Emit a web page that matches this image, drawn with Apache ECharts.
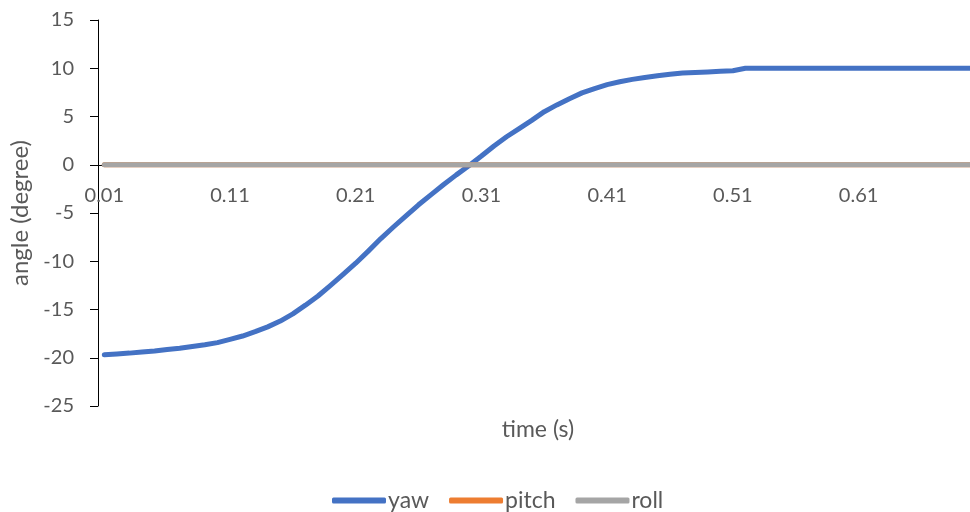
<!DOCTYPE html>
<html>
<head>
<meta charset="utf-8">
<script src="https://cdn.jsdelivr.net/npm/echarts@6/dist/echarts.min.js"></script>
<style>
html,body{margin:0;padding:0;background:#fff;}
#chart{width:970px;height:512px;}
</style>
</head>
<body>
<div id="chart"></div>
<script>
// time categories 0.01 .. 0.70
const times = [];
for (let i = 1; i <= 70; i++) times.push((i / 100).toFixed(2));

const yaw = [
  -19.7, -19.6, -19.52, -19.4, -19.3, -19.15, -19.02, -18.83, -18.65, -18.43,
  -18.1, -17.75, -17.3, -16.8, -16.2, -15.45, -14.55, -13.6, -12.5, -11.35,
  -10.2, -8.95, -7.65, -6.45, -5.3, -4.15, -3.1, -2.05, -1.05, -0.1,
  0.9, 1.95, 2.9, 3.75, 4.6, 5.5, 6.2, 6.85, 7.45, 7.9,
  8.3, 8.6, 8.85, 9.05, 9.22, 9.38, 9.5, 9.56, 9.62, 9.68,
  9.74, 10, 10, 10, 10, 10, 10, 10, 10, 10,
  10, 10, 10, 10, 10, 10, 10, 10, 10, 10
];
const pitch = [
  0,0,0,0,0,0,0,0,0,0, 0,0,0,0,0,0,0,0,0,0, 0,0,0,0,0,0,0,0,0,0,
  0,0,0,0,0,0,0,0,0,0, 0,0,0,0,0,0,0,0,0,0, 0,0,0,0,0,0,0,0,0,0,
  0,0,0,0,0,0,0,0,0,0
];
const roll = [
  0,0,0,0,0,0,0,0,0,0, 0,0,0,0,0,0,0,0,0,0, 0,0,0,0,0,0,0,0,0,0,
  0,0,0,0,0,0,0,0,0,0, 0,0,0,0,0,0,0,0,0,0, 0,0,0,0,0,0,0,0,0,0,
  0,0,0,0,0,0,0,0,0,0
];
const seriesNames = ['yaw', 'pitch', 'roll'];
const seriesColors = ['#4472C4', '#ED7D31', '#A5A5A5'];
const seriesData = [yaw, pitch, roll];

const FONT = 'Lato';
const TXT = '#595959';
const Y_MIN = -25, Y_MAX = 15;
const GRID_TOP = 20, GRID_BOTTOM = 106, H = 512;
// place the category axis at value 0 (Excel "axis crosses at 0")
const plotH = H - GRID_TOP - GRID_BOTTOM;
const zeroOffset = -plotH * (0 - Y_MIN) / (Y_MAX - Y_MIN);

const chart = echarts.init(document.getElementById('chart'), null, {renderer: 'canvas'});
chart.setOption({
  animation: false,
  backgroundColor: '#ffffff',
  grid: {left: 98, right: -8, top: GRID_TOP, bottom: GRID_BOTTOM, containLabel: false, outerBoundsMode: 'none'},
  legend: {
    data: seriesNames,
    left: 327, top: 484,
    icon: 'roundRect',
    itemWidth: 54, itemHeight: 6,
    itemGap: 20,
    textStyle: {fontFamily: FONT, fontSize: 23, color: TXT, padding: [0,0,0,-3]}
  },
  xAxis: {
    type: 'category',
    data: times,
    boundaryGap: true,
    position: 'bottom',
    offset: zeroOffset,
    name: 'time (s)',
    nameLocation: 'middle',
    nameGap: 253,
    nameTextStyle: {fontFamily: FONT, fontSize: 23, color: TXT},
    axisLine: {onZero: false, lineStyle: {color: '#000', width: 1}},
    axisTick: {show: false},
    axisLabel: {interval: 9, margin: 21, fontFamily: FONT, fontSize: 20, color: TXT},
    splitLine: {show: false}
  },
  yAxis: {
    type: 'value',
    min: Y_MIN, max: Y_MAX, interval: 5,
    name: 'angle (degree)',
    nameLocation: 'middle',
    nameGap: 62,
    nameTextStyle: {fontFamily: FONT, fontSize: 24, color: TXT},
    axisLine: {show: true, lineStyle: {color: '#000', width: 1}},
    axisTick: {show: true, length: 8, lineStyle: {color: '#000'}},
    axisLabel: {margin: 24, fontFamily: FONT, fontSize: 20, color: TXT},
    splitLine: {show: false}
  },
  series: seriesNames.map((n, k) => ({
    name: n,
    type: 'line',
    data: seriesData[k],
    showSymbol: false,
    symbol: 'none',
    smooth: false,
    color: seriesColors[k],
    lineStyle: {width: 5, color: seriesColors[k], cap: 'round', join: 'round'}
  }))
});
</script>
</body>
</html>
